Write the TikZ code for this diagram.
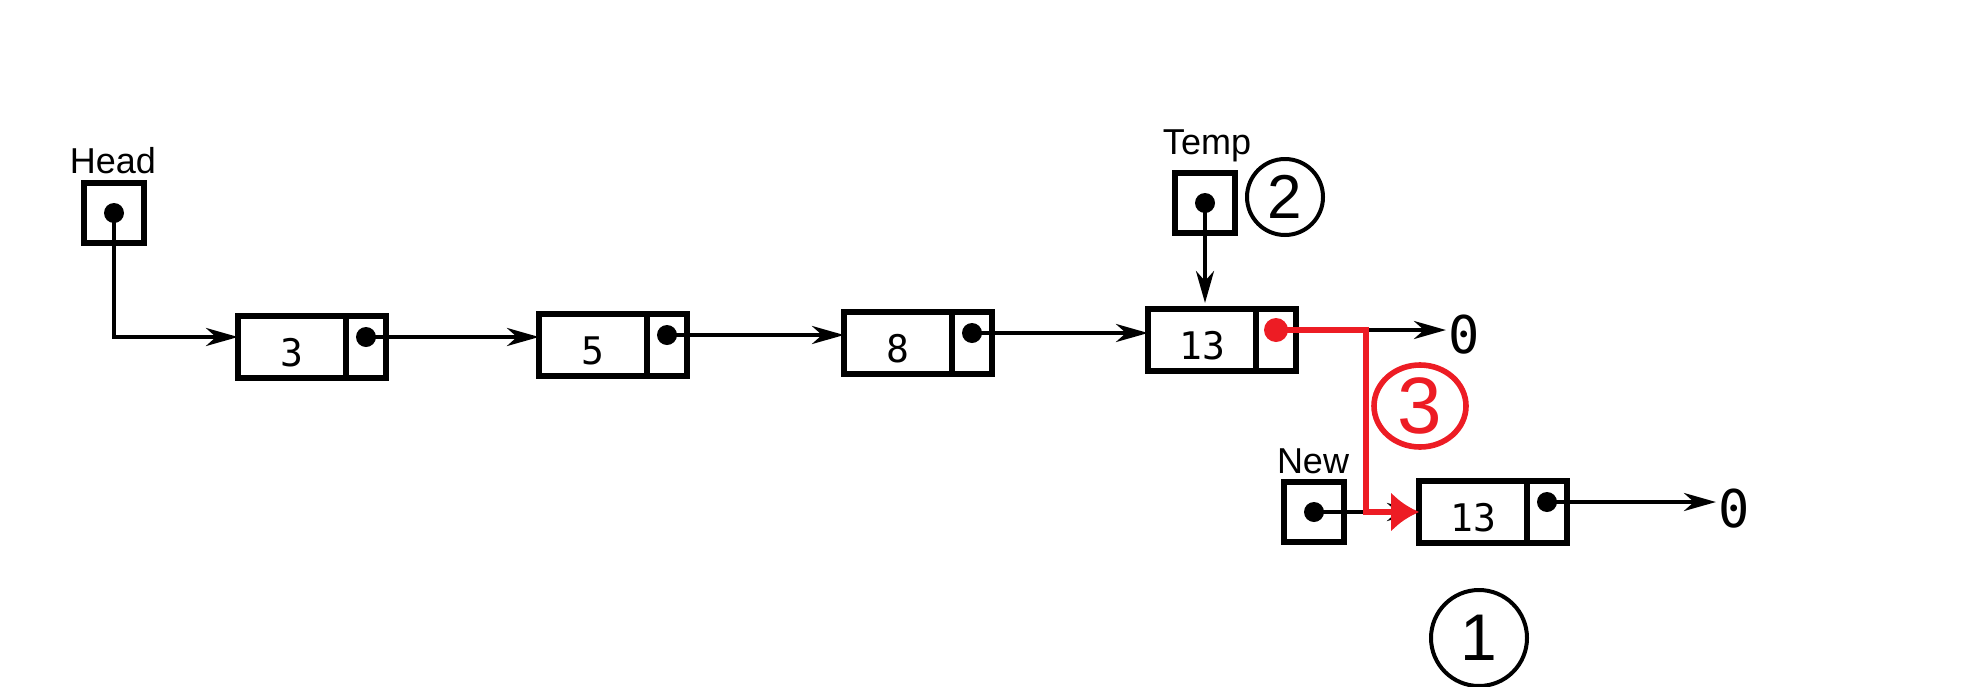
\documentclass[tikz,border=0pt]{standalone}
\usepackage{fontspec}
\setmainfont{Liberation Sans}
\newfontfamily\numfont{DejaVu Sans Mono}
\usetikzlibrary{arrows.meta,shapes.geometric}
\definecolor{paintred}{RGB}{237,28,36}

\begin{document}
\begin{tikzpicture}[x=0.5pt,y=-0.5pt,
    box/.style={draw,line width=2.8pt,inner sep=0pt,outer sep=0pt},
    databox/.style={box,minimum width=54pt,minimum height=31pt,
        font=\numfont\fontsize{19}{21}\selectfont,text height=19pt,text depth=0pt},
    ptrbox/.style={box,minimum width=20pt,minimum height=31pt},
    varbox/.style={box,minimum size=30pt},
    dot/.style={circle,fill,inner sep=0pt,minimum size=10pt},
    lbl/.style={font=\fontsize{18}{20}\selectfont,inner sep=0pt},
    nil/.style={font=\numfont\fontsize{26}{28}\selectfont,inner sep=1pt},
    ln/.style={line width=2pt,-{Stealth[length=16pt,width=9pt,inset=5pt]}},
    circled/.style={draw,circle,line width=2pt,inner sep=0pt},
    redline/.style={draw=paintred,line width=3pt,-{Latex[length=14pt,width=20pt]}}
]
    \useasboundingbox (0,0) rectangle (1970,686);

    \foreach \n/\x/\y/\v in {n3/292/347/3, n5/593/345/5, n8/898/343/8, n13/1202/340/13, nb/1473/512/13} {
        % data part
        \node[databox] (\n) at (\x,\y) {\v};
        % pointer part
        \node[ptrbox,anchor=west] (\n p) at (\n.east) {};
        % the pointer dot
        \node[dot] (\n d) at ([yshift=5pt]\n p.center) {};
    }

    % pointer variables
    \node[lbl] (headlbl) at (113,161) {Head};
    \node[varbox] (head) at (114,213) {};
    \node[dot] (headd) at (head.center) {};

    \node[lbl] (templbl) at (1207,146) {Temp};
    \node[varbox] (temp) at (1205,203) {};
    \node[dot] (tempd) at (temp.center) {};

    \node[lbl] (newlbl) at (1313,461) {New};
    \node[varbox] (new) at (1314,512) {};
    \node[dot] (newd) at (new.center) {};

    \node[nil] (nil1) at (1464,335) {0};
    \node[nil] (nil2) at (1734,509) {0};

    % step numbers
    \node[circled,minimum size=38pt,font=\fontsize{31}{33}\selectfont] (c2) at (1285,197) {2};
    \node[circled,ellipse,minimum width=46pt,minimum height=41pt,line width=2.8pt,
        draw=paintred,text=paintred,font=\fontsize{40}{42}\selectfont] (c3) at (1420,406) {3};
    \node[circled,minimum size=48pt,font=\fontsize{33}{35}\selectfont] (c1) at (1479,638) {1};

    % links
    \draw[ln] (headd.center) |- ([yshift=5pt]n3.west);
    \foreach \a/\b in {n3/n5, n5/n8, n8/n13}
        \draw[ln] (\a d.center) -- (\a d -| \b.west);
    \draw[ln] (tempd.center) -- ([yshift=3pt]tempd |- n13.north);
    \draw[ln] (n13d.center) -- (n13d -| nil1.west);
    \draw[ln] (newd.center) -- (newd -| nb.west);
    \draw[ln] (nbd.center) -- (nbd -| nil2.west);

    % the new link
    \coordinate (turn) at ([xshift=35pt]n13d -| n13p.east);
    \draw[redline] (n13d.center) -- (turn) |- (nb.west);
    \node[dot,fill=paintred,minimum size=12pt] (n13rd) at (n13d) {};

\end{tikzpicture}
\end{document}
